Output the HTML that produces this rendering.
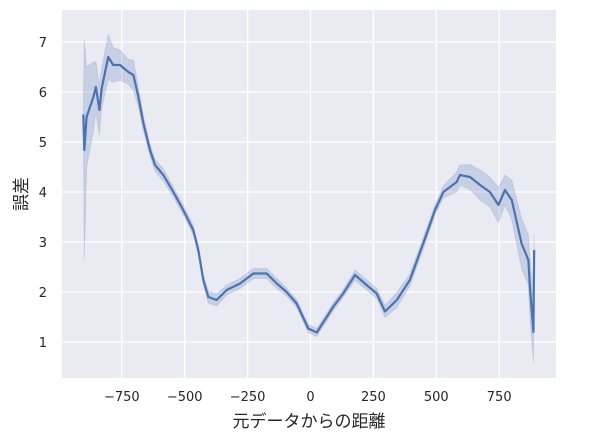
<!DOCTYPE html>
<html><head><meta charset="utf-8"><style>
body{margin:0;background:#fff;}
svg text{font-family:"DejaVu Sans","Liberation Sans","Noto Sans CJK JP",sans-serif;fill:#262626;}
</style></head><body>
<svg id="c" width="590" height="432" xmlns="http://www.w3.org/2000/svg"></svg>
<script>
const xs=[-903,-899,-890,-863,-853,-839,-830,-804,-784,-757,-724,-704,-684,-664,-638,-618,-585,-545,-506,-466,-446,-426,-406,-373,-333,-280,-227,-174,-134,-95,-55,-9,25,91,130,177,223,263,296,343,395,448,495,528,581,594,634,674,713,747,773,800,839,866,872,886,889];
const ys=[5.55,4.84,5.5,5.9,6.1,5.64,6.07,6.7,6.54,6.54,6.4,6.34,5.9,5.37,4.84,4.54,4.34,4.0,3.64,3.24,2.84,2.24,1.9,1.84,2.04,2.17,2.37,2.37,2.17,2.0,1.77,1.27,1.19,1.71,1.97,2.34,2.14,1.97,1.61,1.84,2.24,2.97,3.64,4.0,4.2,4.34,4.3,4.14,4.0,3.74,4.04,3.84,2.97,2.64,2.1,1.2,2.84];
const errs=[0.1,2.2,1.0,0.7,0.5,0.5,0.4,0.45,0.35,0.3,0.25,0.3,0.2,0.15,0.12,0.12,0.12,0.1,0.1,0.1,0.1,0.1,0.12,0.12,0.1,0.1,0.1,0.1,0.1,0.08,0.08,0.08,0.08,0.08,0.08,0.1,0.1,0.1,0.12,0.15,0.12,0.12,0.1,0.12,0.2,0.2,0.25,0.3,0.3,0.35,0.3,0.4,0.5,0.5,0.6,0.6,0.3];
const xTicks=[-750,-500,-250,0,250,500,750];
const yTicks=[1,2,3,4,5,6,7];
const X=v=>310.5+v*0.2516, Y=v=>342-(v-1)*50;
const svg=document.getElementById('c'),NS='http://www.w3.org/2000/svg';
function mk(t,a,p){const e=document.createElementNS(NS,t);for(const k in a)e.setAttribute(k,a[k]);(p||svg).appendChild(e);return e;}
const bg=mk('rect',{x:62,y:10,width:494,height:368,fill:'#eaeaf2'});


xTicks.forEach(t=>{
 const l=mk('line',{x1:X(t),x2:X(t),y1:10,y2:378,stroke:'#fff','stroke-width':1.3});
 
 
 const tx=mk('text',{x:X(t),y:401,'text-anchor':'middle','font-size':13});
 tx.textContent=(t<0?'\u2212'+(-t):t);
 
 
});
yTicks.forEach(t=>{
 const l=mk('line',{x1:62,x2:556,y1:Y(t),y2:Y(t),stroke:'#fff','stroke-width':1.3});
 
 
 const tx=mk('text',{x:47,y:Y(t)+5,'text-anchor':'end','font-size':13});
 tx.textContent=t;
 
 
});
let up=xs.map((x,i)=>X(x)+','+Y(ys[i]+errs[i])), lo=xs.map((x,i)=>X(x)+','+Y(ys[i]-errs[i])).reverse();
const band=mk('polygon',{points:up.concat(lo).join(' '),fill:'#4c72b0','fill-opacity':0.22,stroke:'#4c72b0','stroke-opacity':0.15});


const line=mk('polyline',{points:xs.map((x,i)=>X(x)+','+Y(ys[i])).join(' '),fill:'none',stroke:'#4c72b0','stroke-width':2.2,'stroke-linejoin':'round'});


const xl=mk('text',{x:309,y:427,'text-anchor':'middle','font-size':17});
xl.textContent='元データからの距離';


const yl=mk('text',{x:0,y:0,'text-anchor':'middle','font-size':17,transform:'translate(27,194) rotate(-90)'});
yl.textContent='誤差';


</script>
</body></html>
